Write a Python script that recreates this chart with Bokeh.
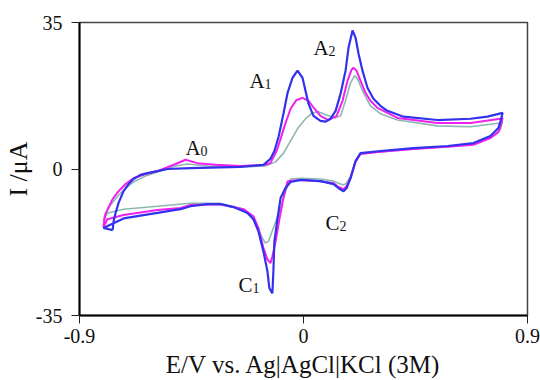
from bokeh.plotting import figure
from bokeh.models import FixedTicker, ColumnDataSource, Range1d
from bokeh.core.properties import value
from bokeh.embed import file_html
from bokeh.resources import INLINE

# ---- data (E in V, I in uA), each curve: anodic sweep then cathodic sweep ----
E_blue = [-0.767, -0.763, -0.755, -0.743, -0.723, -0.703, -0.683, -0.655, -0.627, -0.587,
          -0.546, -0.454, -0.253, -0.161,
          -0.133, -0.117, -0.100, -0.080, -0.064, -0.044, -0.024, -0.004, 0.008, 0.020,
          0.040, 0.068, 0.088, 0.108, 0.129, 0.149, 0.169, 0.181, 0.197, 0.209,
          0.221, 0.237, 0.257, 0.281, 0.309, 0.337, 0.402, 0.538, 0.671, 0.739, 0.800,
          0.792, 0.783, 0.751, 0.683, 0.579, 0.442, 0.309, 0.229, 0.209, 0.189,
          0.173, 0.161, 0.141, 0.121, 0.068, -0.012, -0.052, -0.072, -0.092, -0.104,
          -0.117, -0.121, -0.125, -0.137, -0.145, -0.161, -0.181, -0.201, -0.225, -0.281,
          -0.334, -0.386, -0.454, -0.494, -0.587, -0.723, -0.804, -0.767]
I_blue = [-14.6, -12.5, -10.5, -8.1, -5.3, -3.6, -2.4, -1.4, -1.0, -0.5,
          0.0, 0.2, 0.5, 1.0,
          2.4, 4.3, 7.7, 13.4, 18.2, 21.8, 23.5, 21.8, 18.7, 15.6,
          12.7, 11.5, 11.3, 12.0, 13.9, 18.0, 23.5, 29.0, 33.1, 31.4,
          27.6, 23.5, 19.4, 16.8, 15.1, 13.9, 12.5, 11.7, 12.0, 12.5, 13.4,
          11.5, 9.8, 7.9, 6.2, 5.5, 5.0, 4.3, 3.8, 1.9, -2.2,
          -4.6, -5.3, -4.6, -3.6, -2.9, -2.6, -3.1, -4.5, -6.9, -11.7,
          -17.3, -24.4, -29.7, -28.5, -24.4, -19.7, -14.9, -12.0, -10.5, -9.1,
          -8.4, -8.4, -8.9, -9.6, -10.5, -11.8, -14.1, -14.6]

E_magenta = [-0.804, -0.800, -0.796, -0.783, -0.767, -0.743, -0.715, -0.683, -0.635, -0.587,
             -0.514, -0.474, -0.426, -0.354,
             -0.253, -0.153, -0.133, -0.108, -0.092, -0.076, -0.052, -0.028, -0.004, 0.020,
             0.044, 0.068, 0.100, 0.133, 0.157, 0.177, 0.193, 0.201, 0.213, 0.229,
             0.249, 0.269, 0.297, 0.337, 0.378, 0.538, 0.671, 0.791, 0.800,
             0.792, 0.783, 0.751, 0.683, 0.579, 0.442, 0.309, 0.229, 0.209, 0.189,
             0.173, 0.161, 0.141, 0.121, 0.068, -0.012, -0.064, -0.080, -0.096, -0.112,
             -0.125, -0.133, -0.145, -0.161, -0.181, -0.201, -0.241, -0.334, -0.454, -0.494,
             -0.587, -0.723, -0.788, -0.804]
I_magenta = [-13.9, -12.0, -10.8, -9.1, -7.2, -5.3, -3.6, -2.2, -1.2, -0.5,
             1.2, 2.2, 1.4, 1.0,
             0.7, 1.0, 1.4, 4.3, 7.2, 10.3, 14.4, 16.5, 17.0, 16.3,
             14.4, 12.7, 11.7, 12.7, 16.3, 21.1, 23.7, 24.2, 23.5, 21.1,
             18.2, 16.3, 14.6, 13.4, 12.2, 11.0, 11.0, 12.0, 12.2,
             10.3, 8.8, 7.4, 5.8, 5.3, 4.8, 4.1, 3.6, 1.7, -2.2,
             -4.1, -4.8, -4.3, -3.4, -2.9, -2.6, -2.9, -6.7, -11.7, -17.3,
             -20.9, -22.5, -21.6, -18.9, -14.1, -11.3, -9.6, -8.4, -8.6, -9.3,
             -9.8, -11.0, -12.0, -13.9]

E_gray = [-0.804, -0.796, -0.775, -0.747, -0.715, -0.683, -0.635, -0.587,
          -0.514, -0.466, -0.386, -0.253,
          -0.153, -0.112, -0.080, -0.052, -0.024, 0.008, 0.036, 0.060, 0.092, 0.125,
          0.149, 0.169, 0.189, 0.205, 0.217, 0.237, 0.269, 0.309, 0.378, 0.538,
          0.671, 0.791, 0.800,
          0.790, 0.751, 0.683, 0.579, 0.442, 0.309, 0.229, 0.209, 0.189, 0.173,
          0.161, 0.141, 0.121, 0.068, -0.012, -0.052, -0.072, -0.092, -0.121, -0.141,
          -0.153, -0.165, -0.185, -0.205, -0.241, -0.334, -0.454, -0.587, -0.723, -0.787,
          -0.804]
I_gray = [-12.5, -10.8, -8.6, -6.5, -4.6, -3.1, -1.7, -0.7,
          0.7, 1.2, 0.7, 0.5,
          0.7, 1.7, 3.8, 6.7, 9.6, 12.0, 13.4, 13.7, 12.9, 12.2,
          12.7, 16.3, 20.6, 22.3, 21.6, 18.7, 15.1, 13.2, 11.7, 10.3,
          10.1, 11.0, 11.3,
          9.4, 7.4, 6.0, 5.3, 4.8, 4.1, 3.8, 1.9, -1.7, -3.4,
          -3.8, -3.4, -2.9, -2.4, -2.2, -2.4, -5.3, -9.3, -14.1, -17.3,
          -17.7, -16.5, -14.1, -11.7, -9.6, -8.2, -8.2, -8.9, -9.6, -10.5,
          -12.5]

x_ticks = [-0.9, 0, 0.9]
x_tick_labels = ["-0.9", "0", "0.9"]
y_ticks = [-35, 0, 35]
y_tick_labels = ["-35", "0", "35"]
x_title = "E/V vs. Ag|AgCl|KCl (3M)"
y_title = "I /\u03bcA"

peak_letter = ["A", "A", "A", "C", "C"]
peak_index = ["0", "1", "2", "1", "2"]
peak_x = [-0.474, -0.217, 0.040, -0.261, 0.088]
peak_y = [5.0, 21.1, 28.8, -27.6, -12.9]

SERIF = "Liberation Serif"
INK = "#111111"

p = figure(width=540, height=380, output_backend="svg", toolbar_location=None,
           x_range=Range1d(x_ticks[0], x_ticks[-1]), y_range=Range1d(y_ticks[0], y_ticks[-1]),
           min_border_left=79, min_border_right=13, min_border_top=22, min_border_bottom=63,
           background_fill_color="white", border_fill_color="white")
p.grid.visible = False
p.outline_line_color = "#444444"
p.outline_line_width = 1.5

p.line(E_gray, I_gray, line_color="#8cb8b0", line_width=1.6)
p.line(E_magenta, I_magenta, line_color="#f020f0", line_width=2.0)
p.line(E_blue, I_blue, line_color="#3232ee", line_width=2.2)

src = ColumnDataSource(dict(x=peak_x, y=peak_y, t=peak_letter, s=peak_index,
                            off=[15 if c == "A" else 14 for c in peak_letter]))
p.text(x="x", y="y", text="t", source=src, text_font=value(SERIF), text_font_size="21px",
       text_color=INK, text_baseline="alphabetic", text_align="left")
p.text(x="x", y="y", text="s", source=src, text_font=value(SERIF), text_font_size="14px",
       text_color=INK, text_baseline="alphabetic", text_align="left",
       x_offset="off", y_offset=3)

for ax, ticks, labs in ((p.xaxis[0], x_ticks, x_tick_labels), (p.yaxis[0], y_ticks, y_tick_labels)):
    ax.ticker = FixedTicker(ticks=ticks)
    ax.major_label_overrides = {t: l for t, l in zip(ticks, labs)}
    ax.minor_tick_line_color = None
    ax.major_tick_in = 0
    ax.major_tick_out = 8
    ax.major_tick_line_color = "#222222"
    ax.axis_line_color = "black"
    ax.axis_line_width = 2
    ax.major_label_text_font = SERIF
    ax.major_label_text_font_size = "20px"
    ax.major_label_text_color = INK
    ax.axis_label_text_font = SERIF
    ax.axis_label_text_font_style = "normal"
    ax.axis_label_text_color = INK

p.xaxis.axis_label = x_title
p.yaxis.axis_label = y_title
p.xaxis.axis_label_text_font_size = "25px"
p.yaxis.axis_label_text_font_size = "26px"
p.xaxis.axis_label_text_line_height = 0.8
p.xaxis.major_label_standoff = 5
p.xaxis.axis_label_standoff = 5
p.yaxis.major_label_standoff = 9
p.yaxis.axis_label_standoff = 0
p.yaxis.major_label_orientation = "horizontal"

open("out.html", "w").write(file_html(p, INLINE))
